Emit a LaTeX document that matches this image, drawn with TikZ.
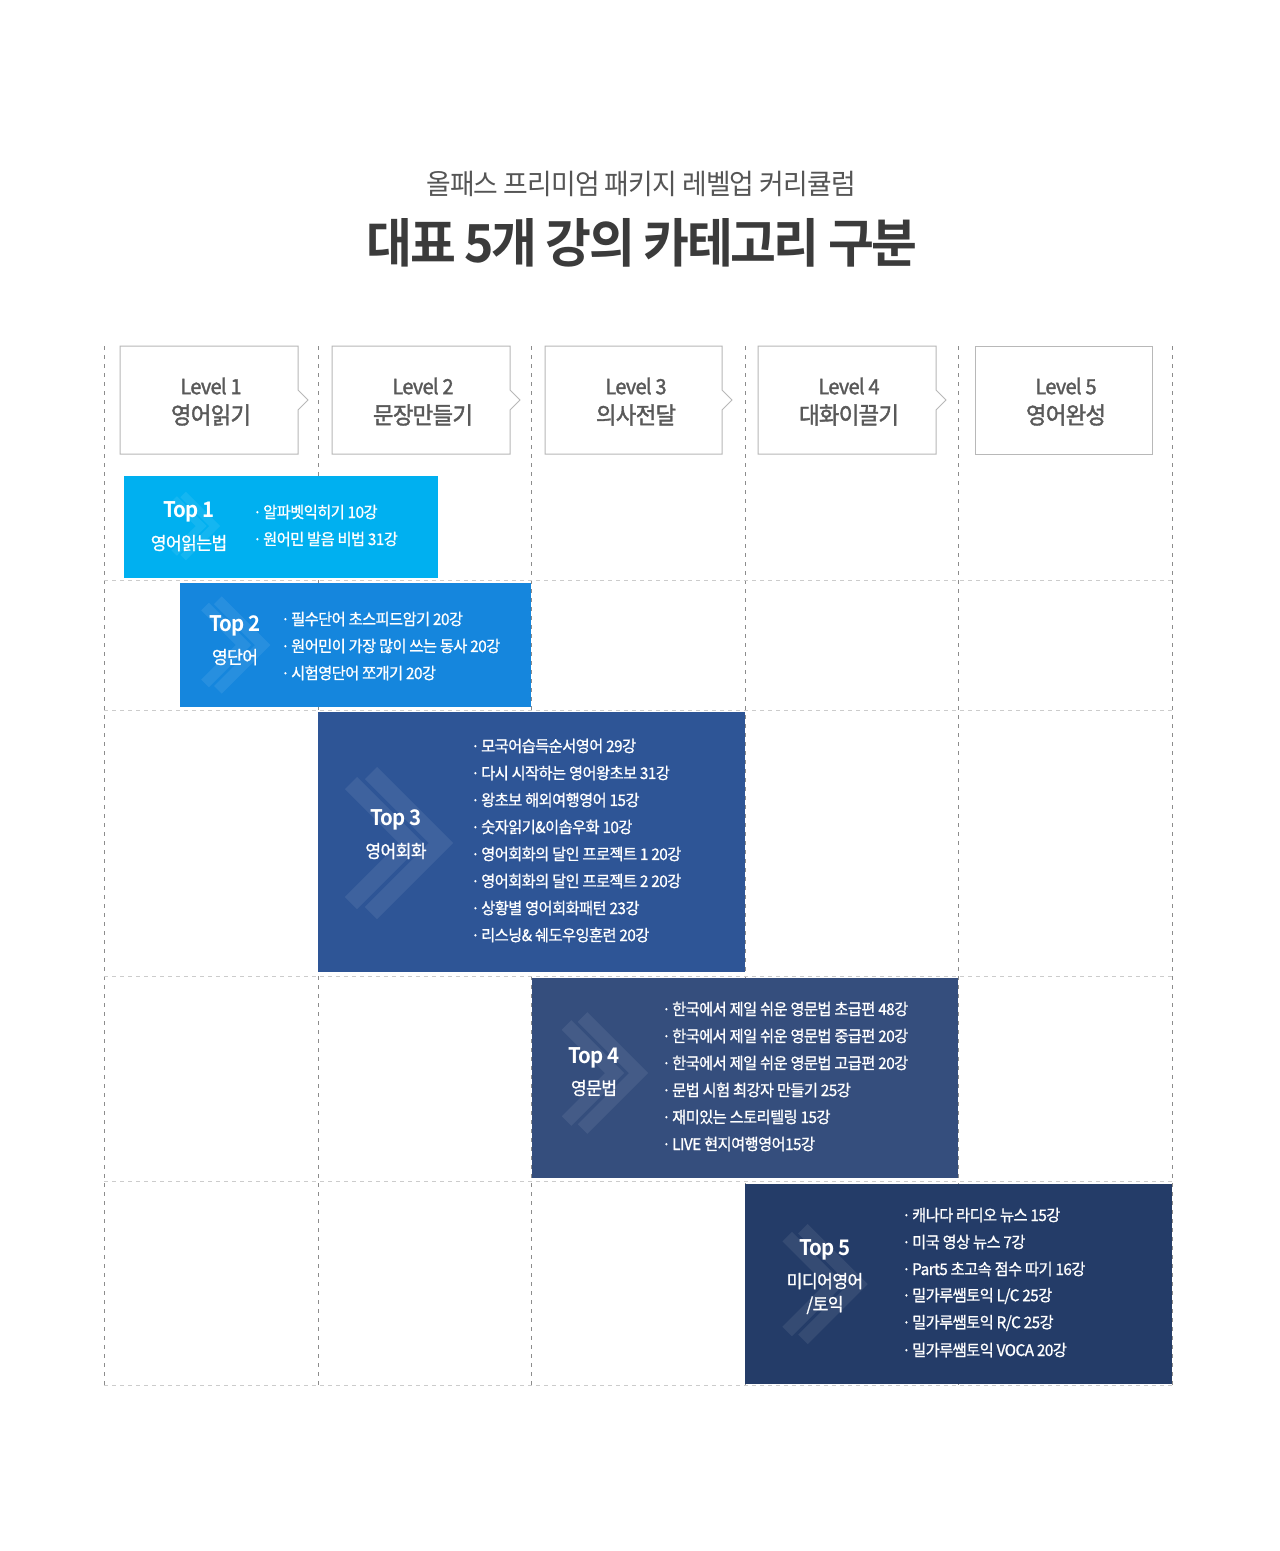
\documentclass[tikz,border=0pt]{standalone}
\usepackage{fontspec}
\setmainfont{Noto Sans CJK KR}[FakeStretch=0.95,LetterSpace=-3]
\newfontfamily\krmed{Noto Sans CJK KR}[FakeStretch=0.95,LetterSpace=-3,FakeBold=1.6]
\newfontfamily\krsemi{Noto Sans CJK KR}[FakeStretch=0.95,LetterSpace=-3,FakeBold=1]
\newfontfamily\krbold{Noto Sans CJK KR Bold}[FakeStretch=0.95,LetterSpace=-5]
\definecolor{cTopA}{HTML}{00B0F0}
\definecolor{cTopB}{HTML}{1586DD}
\definecolor{cTopC}{HTML}{2E5596}
\definecolor{cTopD}{HTML}{354E7D}
\definecolor{cTopE}{HTML}{243C68}
\definecolor{cLvTxt}{HTML}{595959}
\definecolor{cTitle}{HTML}{3B3B3B}
\definecolor{cSub}{HTML}{555555}
\newcommand\mychev[3]{%
  \begin{scope}[shift={(#1,#2)},scale=#3]
    \draw[chevstripe,line width=#3*17pt] (-33,-70) -- (37,0) -- (-33,70);
    \draw[chevstripe,line width=#3*17pt] (-53,-60) -- (7,0) -- (-53,60);
  \end{scope}}
\newcommand\bdot{·\kern1.5pt}
\begin{document}
\begin{tikzpicture}[x=1pt,y=-1pt,
  vline/.style={draw=black!45,line width=1pt,dash pattern=on 4pt off 5pt},
  hline/.style={draw=black!20,line width=1pt,dash pattern=on 4pt off 4pt},
  levelbox/.style={draw=black!28,fill=white,line width=1pt},
  leveltxt/.style={text=cLvTxt,inner sep=0pt,font=\krmed\fontsize{21}{25}\selectfont},
  levelkr/.style={text=cLvTxt,inner sep=0pt,font=\krmed\fontsize{23.5}{28}\selectfont},
  toplabel/.style={text=white,inner sep=0pt,font=\krbold\fontsize{21.5}{26}\selectfont},
  topsub/.style={text=white,inner sep=0pt,font=\krsemi\fontsize{18}{22}\selectfont},
  bullet/.style={anchor=west,text=white,inner sep=0pt,font=\krsemi\fontsize{16}{19}\selectfont},
  chevstripe/.style={draw=white,draw opacity=0.08,line join=miter,line cap=butt}
]
\useasboundingbox (0,0) rectangle (1280,1551);
\fill[white] (0,0) rectangle (1280,1551);

% titles
\node[text=cSub,inner sep=0pt,font=\fontsize{28.2}{32}\selectfont] (sub) at (641,184) {올패스 프리미엄 패키지 레벨업 커리큘럼};
\node[text=cTitle,inner sep=0pt,font=\krbold\fontsize{52.5}{60}\selectfont] (title) at (642,243) {대표 5개 강의 카테고리 구분};

% grid
\foreach \gx in {104,318,531,745,958,1172} \draw[vline] (\gx,346) -- (\gx,1385);
\foreach \gy in {580,710,976,1181,1385} \draw[hline] (104,\gy) -- (1172,\gy);

% level boxes
\draw[levelbox] (120,346) -- (298,346) -- (298,390) -- (308,400) -- (298,410) -- (298,454) -- (120,454) -- cycle;
\draw[levelbox] (332,346) -- (510,346) -- (510,390) -- (520,400) -- (510,410) -- (510,454) -- (332,454) -- cycle;
\draw[levelbox] (545,346) -- (722,346) -- (722,390) -- (732,400) -- (722,410) -- (722,454) -- (545,454) -- cycle;
\draw[levelbox] (758,346) -- (936,346) -- (936,390) -- (946,400) -- (936,410) -- (936,454) -- (758,454) -- cycle;
\draw[levelbox] (975,346) rectangle (1152,454);
\node[leveltxt] (l1a) at (211,386) {Level 1};
\node[levelkr]  (l1b) at (211,415) {영어읽기};
\node[leveltxt] (l2a) at (423,386) {Level 2};
\node[levelkr]  (l2b) at (423,415) {문장만들기};
\node[leveltxt] (l3a) at (636,386) {Level 3};
\node[levelkr]  (l3b) at (636,415) {의사전달};
\node[leveltxt] (l4a) at (849,386) {Level 4};
\node[levelkr]  (l4b) at (849,415) {대화이끌기};
\node[leveltxt] (l5a) at (1066,386) {Level 5};
\node[levelkr]  (l5b) at (1066,415) {영어완성};

% colored boxes
\fill[cTopA] (124,476) rectangle (438,578);
\fill[cTopB] (180,583) rectangle (531,707);
\fill[cTopC] (318,712) rectangle (745,972);
\fill[cTopD] (532,978) rectangle (958,1178);
\fill[cTopE] (745,1184) rectangle (1172,1384);

% chevrons
\mychev{198}{526}{0.45}
\mychev{239}{645}{0.64}
\mychev{404}{843}{1}
\mychev{609}{1073}{0.8}
\mychev{829}{1284}{0.79}

% Top 1
\node[toplabel] (t1) at (189,512) {Top 1};
\node[topsub] (t1s) at (189,543) {영어읽는법};
\foreach \t [count=\i] in {알파벳익히기 10강,원어민 발음 비법 31강}
  \node[bullet] (b1-\i) at (253,{512+27*(\i-1)}) {\bdot\t};

% Top 2
\node[toplabel] (t2) at (235,626) {Top 2};
\node[topsub] (t2s) at (235,657) {영단어};
\foreach \t [count=\i] in {필수단어 초스피드암기 20강,원어민이 가장 많이 쓰는 동사 20강,시험영단어 쪼개기 20강}
  \node[bullet] (b2-\i) at (281,{619+27*(\i-1)}) {\bdot\t};

% Top 3
\node[toplabel] (t3) at (396,820) {Top 3};
\node[topsub] (t3s) at (396,851) {영어회화};
\foreach \t [count=\i] in {모국어습득순서영어 29강,다시 시작하는 영어왕초보 31강,왕초보 해외여행영어 15강,숫자읽기\&이솝우화 10강,영어회화의 달인 프로젝트 1 20강,영어회화의 달인 프로젝트 2 20강,상황별 영어회화패턴 23강,리스닝\& 쉐도우잉훈련 20강}
  \node[bullet] (b3-\i) at (471,{746+27*(\i-1)}) {\bdot\t};

% Top 4
\node[toplabel] (t4) at (594,1058) {Top 4};
\node[topsub] (t4s) at (594,1088) {영문법};
\foreach \t [count=\i] in {한국에서 제일 쉬운 영문법 초급편 48강,한국에서 제일 쉬운 영문법 중급편 20강,한국에서 제일 쉬운 영문법 고급편 20강,문법 시험 최강자 만들기 25강,재미있는 스토리텔링 15강,LIVE 현지여행영어15강}
  \node[bullet] (b4-\i) at (662,{1009+27*(\i-1)}) {\bdot\t};

% Top 5
\node[toplabel] (t5) at (825,1250) {Top 5};
\node[topsub] (t5s) at (825,1281) {미디어영어};
\node[topsub] (t5t) at (825,1305) {/토익};
\foreach \t [count=\i] in {캐나다 라디오 뉴스 15강,미국 영상 뉴스 7강,Part5 초고속 점수 따기 16강,밀가루쌤토익 L/C 25강,밀가루쌤토익 R/C 25강,밀가루쌤토익 VOCA 20강}
  \node[bullet] (b5-\i) at (902,{1215+27*(\i-1)}) {\bdot\t};
\end{tikzpicture}
\end{document}
